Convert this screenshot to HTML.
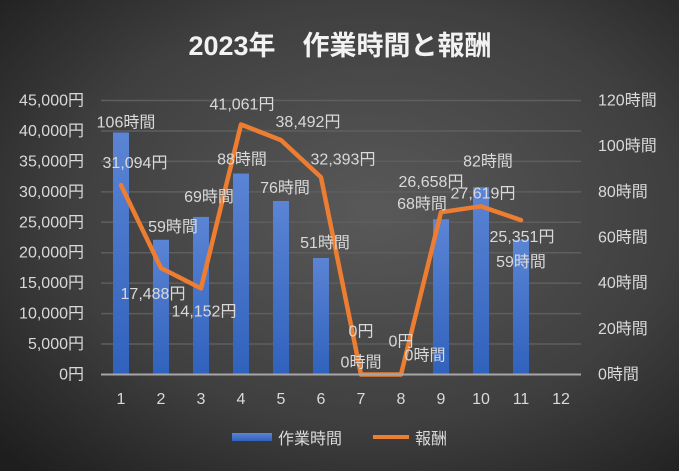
<!DOCTYPE html>
<html><head><meta charset="utf-8"><style>
body{margin:0;width:679px;height:471px;overflow:hidden;}
svg text{font-family:"Liberation Sans","Noto Sans CJK JP",sans-serif;}
</style></head><body>
<svg id="chart" width="679" height="471" xmlns="http://www.w3.org/2000/svg">
<defs>
<radialGradient id="bg" cx="0.55" cy="0.45" r="0.75">
<stop offset="0" stop-color="#595959"/><stop offset="0.6" stop-color="#3f3f3f"/><stop offset="1" stop-color="#1e1e1e"/>
</radialGradient>
<linearGradient id="barg" x1="0" y1="0" x2="0" y2="1">
<stop offset="0" stop-color="#5b84d4"/><stop offset="1" stop-color="#3062bd"/>
</linearGradient>
</defs>
<rect width="679" height="471" fill="url(#bg)"/>
<text x="340" y="55" text-anchor="middle" fill="#f2f2f2" font-size="27" font-weight="bold">2023年　作業時間と報酬</text>
<g id="grid"></g><g id="bars"></g><g id="line"></g><g id="labels"></g><g id="axes"></g>
<g>
<rect x="232" y="433" width="40" height="8" fill="url(#barg)"/>
<text x="278" y="444" fill="#d9d9d9" font-size="16">作業時間</text>
<line x1="373" y1="437" x2="409" y2="437" stroke="#ed7d31" stroke-width="4"/>
<text x="415" y="444" fill="#d9d9d9" font-size="16">報酬</text>
</g>
</svg>
<script>
const categories=["1","2","3","4","5","6","7","8","9","10","11","12"];
const hours=[106,59,69,88,76,51,0,0,68,82,59];
const reward=[31094,17488,14152,41061,38492,32393,0,0,26658,27619,25351];
const leftTicks=[0,5000,10000,15000,20000,25000,30000,35000,40000,45000];
const rightTicks=[0,20,40,60,80,100,120];
// label offsets (styling, px relative to mark)
const hourLblOff=[[5,-5],[12,-8],[8,-15],[1,-9],[4,-8],[4,-10],[0,-7],[24,-14],[-19,-10],[7,-21],[0,27]];
const rewLblOff=[[14,-17],[-8,31],[3,28],[1,-15],[27,-13],[22,-13],[0,-38],[0,-28],[-10,-25],[2,-8],[1,22]];
const X0=101,X1=581,Y0=374.5,Y1=100.5;
const fmt=n=>n.toLocaleString('en-US');
const xc=i=>X0+(X1-X0)/categories.length*(i+0.5);
const yL=v=>Y0-(v/45000)*(Y0-Y1);
const yR=v=>Y0-(v/120)*(Y0-Y1);
const NS="http://www.w3.org/2000/svg";
function mk(p,tag,a){const e=document.createElementNS(NS,tag);for(const k in a)e.setAttribute(k,a[k]);document.getElementById(p).appendChild(e);return e;}
leftTicks.forEach((t,i)=>{
 if(t>0){const g=mk('grid','line',{x1:X0,x2:X1,y1:yL(t),y2:yL(t),stroke:'#5e5e5e','stroke-width':1.5});
 
 }
 const e=mk('axes','text',{x:84,y:yL(t)+5,'text-anchor':'end',fill:'#d9d9d9','font-size':16});e.textContent=fmt(t)+'円';
 
 
});
rightTicks.forEach(t=>{
 const e=mk('axes','text',{x:598,y:yR(t)+5,fill:'#d9d9d9','font-size':16});e.textContent=t+'時間';
 
 
});
const ax=mk('axes','line',{x1:X0,x2:X1,y1:Y0,y2:Y0,stroke:'#a6a6a6','stroke-width':2});


categories.forEach((c,i)=>{
 const e=mk('axes','text',{x:xc(i),y:404,'text-anchor':'middle',fill:'#d9d9d9','font-size':16});e.textContent=c;
 
 
});
hours.forEach((h,i)=>{
 const b=mk('bars','rect',{x:xc(i)-8,y:yR(h),width:16,height:Y0-yR(h),fill:'url(#barg)'});
 
 
 const t=mk('labels','text',{x:xc(i)+hourLblOff[i][0],y:yR(h)+hourLblOff[i][1],'text-anchor':'middle',fill:'#d9d9d9','font-size':16});
 t.textContent=h+'時間';
 
 
});
const pl=mk('line','polyline',{points:reward.map((v,i)=>xc(i)+','+yL(v)).join(' '),fill:'none',stroke:'#ed7d31','stroke-width':4.5,'stroke-linejoin':'round','stroke-linecap':'round'});


reward.forEach((v,i)=>{
 const t=mk('labels','text',{x:xc(i)+rewLblOff[i][0],y:yL(v)+rewLblOff[i][1],'text-anchor':'middle',fill:'#d9d9d9','font-size':16});
 t.textContent=fmt(v)+'円';
 
 
});
</script>
</body></html>
